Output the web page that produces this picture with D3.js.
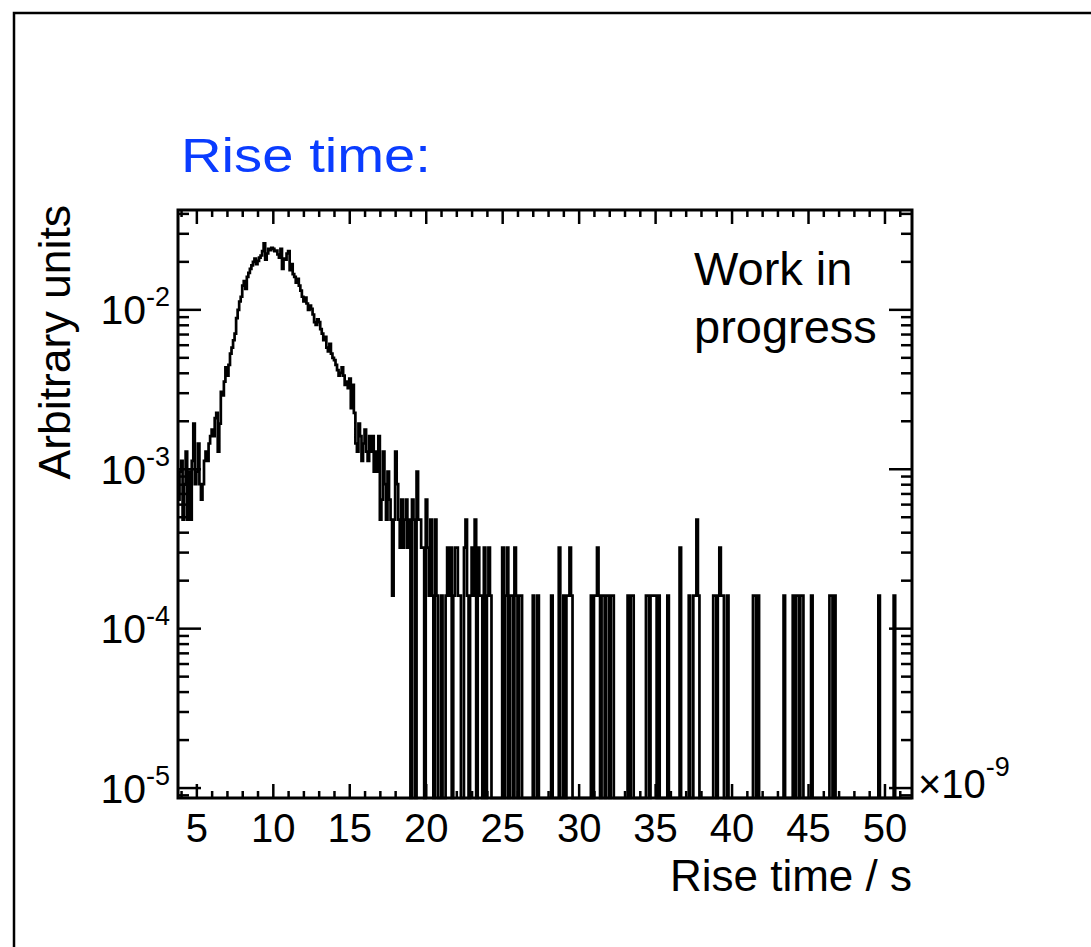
<!DOCTYPE html>
<html>
<head>
<meta charset="utf-8">
<title>Rise time</title>
<script src="https://d3js.org/d3.v7.min.js"></script>
<style>
  body { margin: 0; background: #fff; }
  svg text { font-family: "Liberation Sans", Arial, Helvetica, sans-serif; fill: #000; }
</style>
</head>
<body>
<svg id="chart" width="1091" height="947"></svg>
<script>
// histogram binning (x in units of 1e-9 s)
var binLow = 3.8, binWidth = 0.1;
// entries per bin (480 bins, 3.8 .. 51.8)
var riseCounts = [
  4, 6, 7, 3, 5, 8, 3, 6, 3, 7, 12, 5, 6, 9, 5, 4, 5, 7, 8, 7,
  9, 10, 11, 10, 13, 14, 8, 12, 19, 18, 22, 27, 24, 28, 33, 36, 40, 44, 55, 62,
  70, 75, 88, 94, 84, 100, 106, 112, 118, 124, 130, 120, 126, 132, 136, 145, 162, 128, 140, 150,
  147, 152, 150, 145, 146, 138, 132, 150, 112, 130, 128, 140, 145, 110, 120, 104, 100, 92, 97, 88,
  82, 75, 70, 74, 68, 62, 66, 63, 58, 52, 50, 54, 52, 47, 44, 40, 42, 36, 34, 38,
  33, 31, 30, 28, 26, 24, 25, 27, 24, 21, 22, 20, 23, 15, 21, 14, 9, 8, 12, 10,
  7, 9, 11, 8, 7, 10, 8, 10, 6, 8, 6, 10, 3, 4, 8, 5, 3, 6, 4, 3,
  1, 3, 8, 5, 3, 2, 4, 2, 3, 4, 2, 3, 0, 4, 3, 0, 6, 3, 3, 2,
  2, 0, 4, 2, 1, 3, 1, 0, 3, 1, 0, 0, 1, 0, 0, 1, 2, 1, 2, 0,
  1, 2, 2, 1, 1, 0, 0, 2, 3, 1, 0, 1, 2, 1, 3, 0, 2, 1, 1, 0,
  2, 0, 1, 2, 1, 0, 0, 0, 0, 0, 0, 0, 2, 0, 1, 2, 0, 1, 1, 0,
  2, 1, 0, 1, 1, 0, 0, 0, 0, 0, 0, 0, 1, 0, 0, 1, 0, 0, 0, 0,
  0, 0, 0, 0, 1, 0, 0, 0, 0, 2, 0, 0, 1, 0, 1, 1, 2, 1, 0, 0,
  0, 0, 0, 0, 0, 0, 0, 0, 0, 0, 1, 0, 1, 1, 2, 1, 0, 1, 1, 0,
  1, 1, 0, 1, 1, 0, 0, 0, 0, 0, 0, 0, 0, 0, 1, 0, 1, 1, 0, 0,
  0, 0, 0, 0, 0, 0, 1, 1, 0, 1, 1, 1, 1, 0, 1, 0, 0, 0, 0, 0,
  1, 0, 0, 0, 0, 0, 0, 0, 2, 0, 0, 0, 0, 0, 1, 0, 0, 1, 1, 3,
  1, 0, 0, 0, 0, 0, 0, 0, 0, 0, 1, 1, 0, 1, 2, 1, 1, 0, 0, 1,
  0, 0, 0, 0, 0, 0, 0, 0, 0, 0, 0, 0, 0, 0, 0, 0, 1, 1, 0, 1,
  0, 0, 0, 0, 0, 0, 0, 0, 0, 0, 0, 0, 0, 0, 0, 0, 1, 0, 0, 0,
  0, 0, 1, 0, 1, 1, 0, 1, 1, 0, 0, 0, 0, 0, 1, 0, 0, 0, 0, 0,
  0, 0, 0, 0, 0, 0, 1, 1, 0, 1, 0, 0, 0, 0, 0, 0, 0, 0, 0, 0,
  0, 0, 0, 0, 0, 0, 0, 0, 0, 0, 0, 0, 0, 0, 0, 0, 0, 0, 1, 0,
  0, 0, 0, 0, 0, 0, 0, 0, 1, 0, 0, 0, 0, 0, 0, 0, 0, 0, 0, 0
];
var norm = 1.6e-4;   // arbitrary units per entry

var xDomain = [3.8, 51.8];
var yDomain = [8.6e-6, 0.042];
var xMajorTicks = [5, 10, 15, 20, 25, 30, 35, 40, 45, 50];
var yDecades = [1e-5, 1e-4, 1e-3, 1e-2];
var yDecadeLabels = ["-5", "-4", "-3", "-2"];

var svg = d3.select("#chart");
var fLeft = 178, fRight = 912, fTop = 210, fBottom = 798;

var x = d3.scaleLinear().domain(xDomain).range([fLeft, fRight]);
var y = d3.scaleLog().domain(yDomain).range([fBottom, fTop]).clamp(true);

// outer pad border
svg.append("rect")
  .attr("x", 14).attr("y", 13)
  .attr("width", 1100).attr("height", 960)
  .attr("fill", "none").attr("stroke", "#000").attr("stroke-width", 2.5);

// title
svg.append("text")
  .attr("x", 181).attr("y", 172)
  .attr("font-size", 49)
  .attr("textLength", 250)
  .attr("lengthAdjust", "spacingAndGlyphs")
  .style("fill", "#0a3cff")
  .text("Rise time:");

// histogram
var pts = riseCounts.map(function (c, i) {
  return [binLow + i * binWidth, c > 0 ? c * norm : yDomain[0]];
});
pts.push([binLow + riseCounts.length * binWidth, pts[pts.length - 1][1]]);

var line = d3.line()
  .x(function (d) { return x(d[0]); })
  .y(function (d) { return y(d[1]); })
  .curve(d3.curveStepAfter);

svg.append("path")
  .datum(pts)
  .attr("d", line)
  .attr("fill", "none")
  .attr("stroke", "#000")
  .attr("stroke-width", 2.7);

// minor ticks
var xMinor = d3.range(4, 52, 1).filter(function (v) { return v % 5 !== 0; });
var yMinor = [];
[1e-6, 1e-5, 1e-4, 1e-3, 1e-2].forEach(function (d) {
  for (var k = 2; k <= 9; k++) {
    var v = d * k;
    if (v >= yDomain[0] && v <= yDomain[1]) yMinor.push(v);
  }
});

function styleAxis(g) {
  g.select(".domain").remove();
  g.selectAll(".tick line").attr("stroke", "#000").attr("stroke-width", 2.5);
}

// x axis bottom (with labels)
svg.append("g")
  .attr("transform", "translate(0," + fBottom + ")")
  .call(d3.axisBottom(x).tickValues(xMajorTicks).tickSize(-14).tickPadding(16))
  .call(styleAxis)
  .call(function (g) {
    g.selectAll("text").attr("font-size", 40).attr("font-family", null).style("fill", "#000");
  });
svg.append("g")
  .attr("transform", "translate(0," + fBottom + ")")
  .call(d3.axisBottom(x).tickValues(xMinor).tickSize(-7).tickFormat(""))
  .call(styleAxis);
// x axis top
svg.append("g")
  .attr("transform", "translate(0," + fTop + ")")
  .call(d3.axisTop(x).tickValues(xMajorTicks).tickSize(-14).tickFormat(""))
  .call(styleAxis);
svg.append("g")
  .attr("transform", "translate(0," + fTop + ")")
  .call(d3.axisTop(x).tickValues(xMinor).tickSize(-7).tickFormat(""))
  .call(styleAxis);

// y axes
svg.append("g")
  .attr("transform", "translate(" + fLeft + ",0)")
  .call(d3.axisLeft(y).tickValues(yDecades).tickSize(-23).tickFormat(""))
  .call(styleAxis);
svg.append("g")
  .attr("transform", "translate(" + fLeft + ",0)")
  .call(d3.axisLeft(y).tickValues(yMinor).tickSize(-11).tickFormat(""))
  .call(styleAxis);
svg.append("g")
  .attr("transform", "translate(" + fRight + ",0)")
  .call(d3.axisRight(y).tickValues(yDecades).tickSize(-23).tickFormat(""))
  .call(styleAxis);
svg.append("g")
  .attr("transform", "translate(" + fRight + ",0)")
  .call(d3.axisRight(y).tickValues(yMinor).tickSize(-11).tickFormat(""))
  .call(styleAxis);

// y labels 10^n
yDecades.forEach(function (v, i) {
  var t = svg.append("text")
    .attr("x", 170).attr("y", y(v) + 15)
    .attr("text-anchor", "end")
    .attr("font-size", 41);
  t.append("tspan").text("10");
  t.append("tspan").attr("dy", -18).attr("font-size", 27).text(yDecadeLabels[i]);
});

// frame
svg.append("rect")
  .attr("x", fLeft).attr("y", fTop)
  .attr("width", fRight - fLeft).attr("height", fBottom - fTop)
  .attr("fill", "none").attr("stroke", "#000").attr("stroke-width", 3);

// x exponent
var ex = svg.append("text").attr("x", 918).attr("y", 798).attr("font-size", 40);
ex.append("tspan").text("\u00d710");
ex.append("tspan").attr("dy", -22).attr("font-size", 27).text("-9");

// axis titles
svg.append("text")
  .attr("x", fRight).attr("y", 891)
  .attr("text-anchor", "end")
  .attr("font-size", 44)
  .text("Rise time / s");

svg.append("text")
  .attr("transform", "translate(70,205) rotate(-90)")
  .attr("text-anchor", "end")
  .attr("font-size", 44.5)
  .text("Arbitrary units");

// label
svg.append("text").attr("x", 694).attr("y", 285).attr("font-size", 47).text("Work in");
svg.append("text").attr("x", 694).attr("y", 343).attr("font-size", 47).text("progress");
</script>
</body>
</html>
